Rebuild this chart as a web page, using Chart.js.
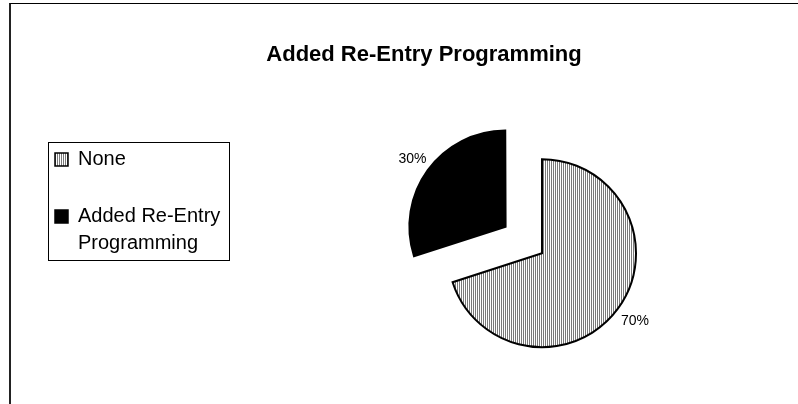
<!DOCTYPE html>
<html>
<head>
<meta charset="utf-8">
<title>Added Re-Entry Programming</title>
<script src="https://cdn.jsdelivr.net/npm/chart.js@4.4.1/dist/chart.umd.min.js"></script>
<style>
    html, body { margin: 0; padding: 0; background: #fff; overflow: hidden; }
    #frame {
        position: absolute; left: 9px; top: 3px;
        width: 850px; height: 400px;
        border-left: 2px solid #222; border-top: 1px solid #000;
    }
    #chart { display: block; }
</style>
</head>
<body>
<div id="frame"><canvas id="chart" width="850" height="400"></canvas></div>
<script>
const categories = ['None', 'Added Re-Entry Programming'];
const percentages = [70, 30];

const FONT = '"Liberation Sans", Arial, sans-serif';
Chart.defaults.font.family = FONT;
Chart.defaults.color = '#000';

const canvas = document.getElementById('chart');
const ctx = canvas.getContext('2d');

// vertical grey/white hatch like the old Excel fill
function stripePattern() {
    const tile = document.createElement('canvas');
    tile.width = 2;
    tile.height = 2;
    const g = tile.getContext('2d');
    g.fillStyle = '#fff';
    g.fillRect(0, 0, 2, 2);
    g.fillStyle = '#7a7a7a';
    g.fillRect(0, 0, 1, 2);
    return ctx.createPattern(tile, 'repeat');
}

function wrapText(c, text, maxWidth) {
    const words = text.split(' ');
    const lines = [];
    let line = '';
    words.forEach(w => {
        const test = line ? line + ' ' + w : w;
        if (line && c.measureText(test).width > maxWidth) {
            lines.push(line);
            line = w;
        } else {
            line = test;
        }
    });
    lines.push(line);
    return lines.length > 1 ? lines : text;
}

// empty box between legend and pie, so the plot sits right of the title centre
const plotGap = {
    id: 'plotGap',
    beforeInit(chart) {
        Chart.layouts.addBox(chart, {
            position: 'left',
            weight: 0,
            fullSize: false,
            options: {},
            width: 0,
            height: 0,
            isHorizontal() { return false; },
            update(maxWidth, maxHeight) {
                this.width = 33;
                this.height = maxHeight;
            },
            draw() {}
        });
    }
};

const sliceLabels = {
    id: 'sliceLabels',
    afterDatasetsDraw(chart) {
        const c = chart.ctx;
        const meta = chart.getDatasetMeta(0);
        const data = chart.data.datasets[0].data;
        const total = data.reduce((a, b) => a + b, 0);
        c.save();
        c.font = '14px ' + FONT;
        c.fillStyle = '#000';
        c.textAlign = 'center';
        c.textBaseline = 'middle';
        meta.data.forEach((arc, i) => {
            const {x, y, startAngle, endAngle, outerRadius} =
                arc.getProps(['x', 'y', 'startAngle', 'endAngle', 'outerRadius'], true);
            const mid = (startAngle + endAngle) / 2;
            const dist = (arc.options.offset || 0) / 4 + outerRadius + 21;
            c.fillText(Math.round(data[i] / total * 100) + '%',
                x + Math.cos(mid) * dist, y + Math.sin(mid) * dist);
        });
        c.restore();
    }
};

const legendFrame = {
    id: 'legendFrame',
    afterDraw(chart) {
        const boxes = chart.legend && chart.legend.legendHitBoxes;
        if (!boxes || !boxes.length) return;
        const last = boxes[boxes.length - 1];
        const left = Math.round(Math.min(...boxes.map(b => b.left)) - 7);
        const right = Math.round(Math.max(...boxes.map(b => b.left + b.width)) + 9);
        const top = Math.round(boxes[0].top - 7);
        const bottom = Math.round(last.top + last.height);
        const c = chart.ctx;
        c.save();
        c.strokeStyle = '#000';
        c.lineWidth = 1;
        c.strokeRect(left + 0.5, top + 0.5, right - left, bottom - top);
        c.restore();
    }
};

new Chart(ctx, {
    type: 'pie',
    data: {
        labels: categories,
        datasets: [{
            data: percentages,
            backgroundColor: [stripePattern(), '#000'],
            borderColor: '#000',
            borderWidth: 2,
            borderJoinStyle: 'miter',
            offset: [0, 180],
            hoverOffset: 0
        }]
    },
    options: {
        responsive: false,
        animation: false,
        events: [],
        radius: 94,
        layout: {
            padding: { left: 7, right: 31, top: 0, bottom: 10 }
        },
        plugins: {
            title: {
                display: true,
                text: 'Added Re-Entry Programming',
                color: '#000',
                font: { size: 22, weight: 'bold', family: FONT, lineHeight: 1.2 },
                padding: { top: 38, bottom: 44 }
            },
            legend: {
                position: 'left',
                align: 'start',
                fullSize: false,
                labels: {
                    boxWidth: 13,
                    boxHeight: 13,
                    padding: 37,
                    color: '#000',
                    font: { size: 20, family: FONT, lineHeight: 1.33 },
                    generateLabels(chart) {
                        const items = Chart.overrides.doughnut.plugins.legend.labels.generateLabels(chart);
                        chart.ctx.save();
                        chart.ctx.font = '20px ' + FONT;
                        items.forEach(item => {
                            item.text = wrapText(chart.ctx, item.text, 160);
                            item.lineWidth = 1.5;
                            item.strokeStyle = '#000';
                        });
                        chart.ctx.restore();
                        return items;
                    }
                }
            },
            tooltip: { enabled: false }
        }
    },
    plugins: [plotGap, sliceLabels, legendFrame]
});
</script>
</body>
</html>
